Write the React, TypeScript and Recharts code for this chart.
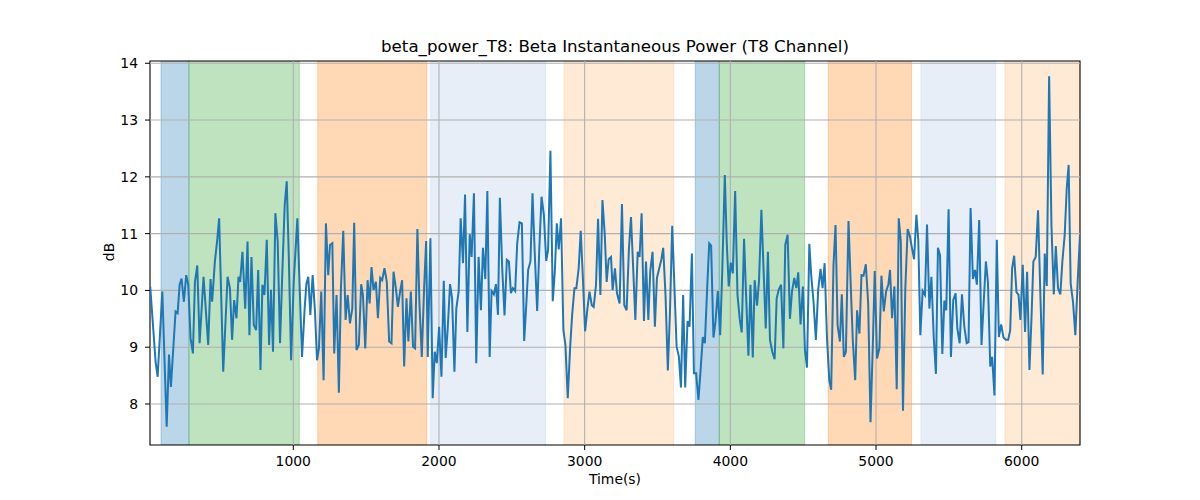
import React from "react";
import { LineChart, Line, XAxis, YAxis, ReferenceArea, ReferenceLine } from "recharts";

const TIME = [
  18, 55, 69, 101, 131, 147, 160, 192, 206, 220, 233, 249, 265, 279, 295, 311, 325, 341, 357, 384,
  416, 432, 443, 462, 478, 491, 519, 549, 565, 580, 594, 610, 624, 635, 651, 670, 686, 699, 713, 729,
  745, 759, 775, 788, 802, 818, 834, 847,
  861, 877, 893, 909, 925, 941, 955, 969, 985, 1003, 1028, 1044, 1060, 1078, 1090, 1103, 1117, 1133, 1149, 1163,
  1176, 1192, 1208, 1224, 1240, 1252, 1268, 1281, 1297, 1313, 1327, 1343, 1359, 1373, 1389, 1405, 1418, 1434, 1450, 1466,
  1478, 1494, 1510, 1524, 1537, 1551, 1567, 1581, 1597, 1610, 1626,
  1642, 1658, 1674, 1688, 1704, 1718, 1733, 1747, 1761, 1777, 1790, 1807, 1822, 1836, 1852, 1866, 1882, 1898, 1912, 1923,
  1941, 1957, 1971, 1985, 2001, 2017, 2033, 2046, 2060, 2076, 2090, 2106, 2119, 2135, 2149, 2165, 2179, 2195, 2211, 2224,
  2240, 2256, 2272, 2288, 2302, 2318, 2332, 2348, 2361, 2377, 2391,
  2405, 2418, 2434, 2450, 2466, 2480, 2494, 2507, 2523, 2537, 2553, 2569, 2585, 2599, 2612, 2628, 2642, 2658, 2674, 2688,
  2704, 2720, 2736, 2749, 2765, 2781, 2795, 2809, 2822, 2838, 2854, 2868, 2884, 2900, 2914, 2930, 2943, 2959, 2973, 2987,
  3003, 3019, 3033, 3049, 3062, 3078, 3092, 3108, 3122, 3138, 3151, 3165, 3181,
  3192, 3208, 3222, 3240, 3256, 3272, 3288, 3304, 3318, 3334, 3348, 3364, 3377, 3391, 3407, 3421, 3437, 3450, 3466, 3482,
  3496, 3512, 3526, 3539, 3555, 3571, 3585, 3601, 3617, 3631, 3647, 3661, 3676, 3690, 3706, 3720, 3736, 3750, 3765, 3781,
  3795, 3811, 3825, 3841, 3855, 3868, 3884, 3898, 3914, 3930, 3944, 3962,
  3975, 3989, 4003, 4017, 4033, 4049, 4065, 4078, 4094, 4108, 4124, 4138, 4154, 4167, 4183, 4197, 4213, 4229, 4243, 4258,
  4272, 4288, 4304, 4318, 4332, 4348, 4364, 4377, 4393, 4409, 4423, 4439, 4453, 4466, 4482, 4498, 4512, 4526, 4542, 4555,
  4571, 4587, 4603, 4619, 4633, 4647, 4663, 4679, 4692, 4708, 4722, 4736, 4752, 4765, 4779,
  4793, 4811, 4827, 4841, 4857, 4870, 4886, 4900, 4914, 4930, 4946, 4962, 4978, 4991, 5007, 5023, 5037, 5053, 5069, 5085,
  5096, 5110, 5126, 5142, 5156, 5170, 5185, 5201, 5217, 5233, 5247, 5261, 5277, 5290, 5304, 5320, 5336, 5350, 5366, 5380,
  5396, 5411, 5425, 5439, 5455, 5469, 5482, 5498, 5514, 5530, 5546,
  5558, 5574, 5590, 5606, 5622, 5635, 5649, 5665, 5679, 5692, 5708, 5724, 5738, 5754, 5768, 5784, 5797, 5813, 5829, 5843,
  5859, 5875, 5891, 5907, 5921, 5934, 5948, 5964, 5978, 5991, 6007, 6023, 6037, 6053, 6067, 6080, 6096, 6112, 6128, 6144,
  6158, 6172, 6188, 6204, 6220, 6234, 6249, 6265, 6279, 6295, 6309, 6322, 6336, 6352, 6368, 6384, 6400,
];

const POWER = [
  10.07, 8.74, 8.48, 9.98, 7.6, 8.87, 8.3, 9.63, 9.6, 10.1, 10.21, 9.8, 10.27, 10.1, 9.16, 8.89, 10.15, 10.44, 9.07, 10.24,
  9.04, 10.2, 9.8, 10.51, 10.89, 11.27, 8.57, 10.24, 10.04, 9.13, 9.83, 9.51, 10.24, 10.15, 10.68, 9.68, 10.86, 9.21, 10.59, 9.39,
  9.3, 10.36, 8.6, 10.1, 9.92, 10.89, 9.04, 10.01,
  8.92, 11.36, 10.86, 9.07, 10.33, 11.5, 11.92, 10.62, 8.77, 10.15, 11.27, 10.04, 8.83, 9.68, 10.12, 10.24, 9.57, 10.27, 9.63, 8.77,
  8.98, 9.98, 8.42, 11.18, 10.27, 10.8, 10.83, 8.89, 9.92, 8.2, 10.04, 11.05, 9.48, 9.92, 9.42, 9.68, 11.19, 8.95, 9.04, 10.11,
  9.92, 8.98, 10.18, 9.77, 10.41, 10.01, 10.15, 9.51, 10.22, 10.18, 10.39,
  10.15, 9.1, 9.07, 10.33, 10.04, 9.71, 9.98, 10.18, 8.66, 9.86, 9.1, 9.98, 9.01, 8.98, 11.08, 9.77, 8.83, 10.04, 10.87, 8.83,
  10.92, 8.1, 8.92, 8.72, 9.36, 8.48, 10.17, 8.81, 9.33, 10.11, 9.86, 8.57, 9.68, 9.98, 11.27, 10.48, 11.69, 9.27, 10.99, 10.59,
  11.71, 8.72, 10.59, 9.65, 10.75, 10.2, 11.75, 8.83, 9.99, 9.93, 10.11,
  9.57, 11.63, 10.39, 9.56, 10.54, 10.51, 9.95, 10.04, 9.99, 10.83, 11.2, 11.18, 9.11, 9.74, 10.36, 10.51, 11.71, 10.62, 9.64, 10.68,
  11.65, 11.33, 10.52, 10.71, 12.46, 9.81, 10.33, 11.18, 10.72, 11.27, 9.3, 9.04, 8.1, 8.98, 9.57, 10.04, 10.04, 10.39, 11.05, 10.27,
  9.28, 9.68, 9.98, 9.74, 9.71, 10.1, 11.26, 9.92, 11.59, 10.98, 10.15, 10.55, 10.59,
  10.01, 10.39, 9.95, 9.77, 11.52, 9.74, 9.65, 10.74, 11.29, 10.33, 9.48, 10.68, 10.59, 11.36, 9.46, 10.51, 9.48, 10.33, 10.68, 9.36,
  10.22, 10.39, 10.54, 10.75, 9.92, 8.59, 9.58, 11.14, 10.01, 9.01, 8.83, 8.29, 9.92, 8.29, 9.46, 9.36, 10.65, 8.54, 8.54, 8.07,
  8.57, 9.18, 9.07, 10.04, 10.83, 10.79, 9.17, 9.45, 9.99, 9.21, 10.3, 12.03,
  10.86, 10.07, 10.49, 10.3, 11.75, 9.92, 9.48, 9.26, 10.91, 9.92, 8.85, 10.1, 8.82, 10.18, 9.73, 10.18, 11.42, 10.3, 9.33, 10.68,
  9.13, 8.92, 8.79, 9.86, 10.01, 10.1, 8.98, 10.8, 10.98, 9.5, 9.98, 10.22, 10.04, 10.32, 9.4, 10.07, 8.95, 8.64, 10.82, 10.27,
  9.8, 9.13, 10.01, 10.38, 10.04, 10.48, 9.18, 8.42, 8.25, 10.45, 11.15, 9.39, 9.1, 9.93, 8.83,
  8.92, 11.22, 10.04, 9.1, 8.42, 9.65, 9.24, 10.27, 10.26, 10.46, 9.77, 7.68, 9.04, 10.34, 8.8, 8.98, 10.26, 9.63, 9.98, 10.11,
  10.36, 9.51, 10.07, 8.26, 11.27, 10.86, 7.88, 10.04, 11.08, 10.95, 10.74, 10.55, 11.33, 10.89, 9.21, 9.99, 9.92, 11.16, 9.68, 10.24,
  9.18, 8.53, 10.75, 10.62, 8.88, 9.82, 9.65, 11.43, 8.83, 9.83, 9.95,
  9.33, 9.07, 9.93, 9.36, 9.07, 9.09, 11.45, 10.2, 10.36, 10.1, 11.24, 9.04, 9.74, 10.51, 10.15, 8.66, 8.83, 8.15, 10.89, 9.18,
  9.4, 9.17, 9.13, 9.13, 9.3, 10.39, 10.61, 9.97, 9.92, 9.48, 10.45, 9.27, 10.33, 8.6, 9.51, 10.51, 10.59, 11.41, 9.92, 8.52,
  10.65, 10.08, 13.77, 11.15, 9.93, 10.78, 10.04, 9.93, 10.51, 10.98, 11.8, 12.21, 10.12, 9.8, 9.21, 10.15, 10.98,
];

const BAND_START = [92, 284, 1168, 1943, 2858, 3759, 3924, 4672, 5308, 5885];
const BAND_END = [284, 1041, 1916, 2732, 3611, 3924, 4510, 5244, 5821, 6400];
const BAND_COLOR = ["#1f77b4", "#2ca02c", "#ff7f0e", "#aec7e8", "#ffbb78", "#1f77b4", "#2ca02c", "#ff7f0e", "#aec7e8", "#ffbb78"];

const X_TICKS = [1000, 2000, 3000, 4000, 5000, 6000];
const Y_TICKS = [8, 9, 10, 11, 12, 13, 14];
const X_DOMAIN = [16.5, 6400];
const Y_DOMAIN = [7.278, 14.04];

const data = TIME.map((t, i) => ({ t, v: POWER[i] }));

const FONT = "DejaVu Sans";
const tickStyle = { fill: "#000", fontSize: 13.9, fontFamily: FONT };

export default function App() {
  return (
    <div style={{ position: "absolute", left: 0, top: 0, width: 1200, height: 500, background: "#fff" }}>
      <LineChart
        width={1200}
        height={500}
        data={data}
        margin={{ top: 61, right: 120, bottom: 0, left: 0 }}
      >
        <XAxis
          dataKey="t"
          type="number"
          domain={X_DOMAIN}
          ticks={X_TICKS}
          allowDataOverflow
          height={55}
          tickSize={5}
          tickMargin={6}
          tick={tickStyle}
          stroke="#000"
          axisLine={false}
          tickLine={{ stroke: "#000", strokeWidth: 1 }}
        />
        <YAxis
          type="number"
          domain={Y_DOMAIN}
          ticks={Y_TICKS}
          allowDataOverflow
          width={150}
          tickSize={5}
          tickMargin={7}
          tick={tickStyle}
          axisLine={false}
          tickLine={{ stroke: "#000", strokeWidth: 1 }}
        />
        {BAND_START.map((s, i) => (
          <ReferenceArea
            key={"b" + i}
            x1={s}
            x2={BAND_END[i]}
            y1={Y_DOMAIN[0]}
            y2={Y_DOMAIN[1]}
            fill={BAND_COLOR[i]}
            fillOpacity={0.3}
            stroke={BAND_COLOR[i]}
            strokeOpacity={0.3}
            strokeWidth={1}
            ifOverflow="hidden"
          />
        ))}
        {X_TICKS.map((x) => (
          <ReferenceLine key={"gx" + x} x={x} stroke="#b0b0b0" strokeWidth={1.1} />
        ))}
        {Y_TICKS.map((y) => (
          <ReferenceLine key={"gy" + y} y={y} stroke="#b0b0b0" strokeWidth={1.1} />
        ))}
        <Line
          dataKey="v"
          type="linear"
          stroke="#1f77b4"
          strokeWidth={2}
          dot={false}
          isAnimationActive={false}
        />
        <ReferenceArea
          x1={X_DOMAIN[0]}
          x2={X_DOMAIN[1]}
          y1={Y_DOMAIN[0]}
          y2={Y_DOMAIN[1]}
          fill="none"
          fillOpacity={0}
          stroke="#000"
          strokeWidth={1.1}
        />
      </LineChart>
      <svg
        width={1200}
        height={500}
        style={{ position: "absolute", left: 0, top: 0, pointerEvents: "none" }}
      >
        <text x={615} y={52} textAnchor="middle" fontFamily={FONT} fontSize={16.67} fill="#000">
          beta_power_T8: Beta Instantaneous Power (T8 Channel)
        </text>
        <text x={615} y={484} textAnchor="middle" fontFamily={FONT} fontSize={13.9} fill="#000">
          Time(s)
        </text>
        <text
          x={114}
          y={252}
          textAnchor="middle"
          fontFamily={FONT}
          fontSize={13.9}
          fill="#000"
          transform="rotate(-90 114 252)"
        >
          dB
        </text>
      </svg>
    </div>
  );
}
